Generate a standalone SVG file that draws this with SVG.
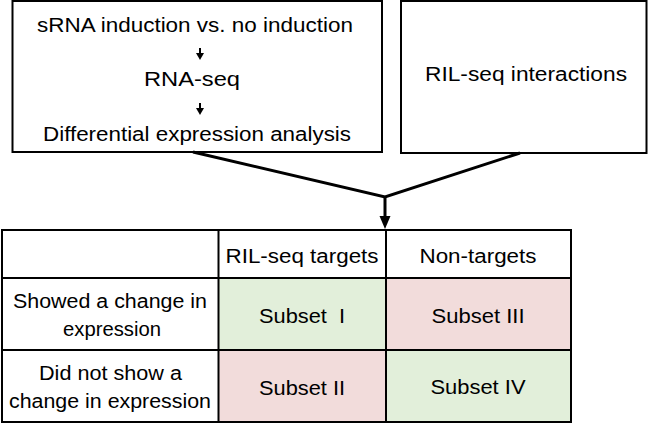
<svg xmlns="http://www.w3.org/2000/svg" width="648" height="427" viewBox="0 0 648 427">
<style>
.box{fill:#fff;stroke:#000;stroke-width:2}
.t{font-family:"Liberation Sans",Arial,sans-serif;font-size:20px;fill:#000;text-anchor:middle}
.conn{fill:none;stroke:#000;stroke-width:3;stroke-linejoin:miter}
.grid{fill:none;stroke:#000;stroke-width:2}
.g{fill:#E2EFDA}
.p{fill:#F2DCDB}
</style>
<rect width="648" height="427" fill="#fff"/>
<g id="node-induction">
<rect class="box" x="12.5" y="1" width="369.5" height="151"/>
<text class="t" x="195" y="32" textLength="316" lengthAdjust="spacingAndGlyphs">sRNA induction vs. no induction</text>
<line x1="200" y1="48" x2="200" y2="55" stroke="#000" stroke-width="2"/>
<polygon points="196,53 204,53 200,60" fill="#000"/>
<text class="t" x="192" y="86" textLength="96" lengthAdjust="spacingAndGlyphs">RNA-seq</text>
<line x1="200" y1="103" x2="200" y2="110" stroke="#000" stroke-width="2"/>
<polygon points="196,108 204,108 200,115" fill="#000"/>
<text class="t" x="197" y="141" textLength="308" lengthAdjust="spacingAndGlyphs">Differential expression analysis</text>
</g>
<g id="node-rilseq">
<rect class="box" x="401" y="1" width="245.5" height="152"/>
<text class="t" x="526" y="81" textLength="202" lengthAdjust="spacingAndGlyphs">RIL-seq interactions</text>
</g>
<g id="connectors">
<polyline class="conn" points="193,152 385,197 520,153"/>
<line class="conn" x1="385" y1="197" x2="385" y2="217"/>
<polygon points="379.5,216 390.5,216 385,229" fill="#000"/>
</g>
<g id="node-table">
<rect x="218.5" y="278" width="167.5" height="72" class="g"/>
<rect x="386" y="278" width="185" height="72" class="p"/>
<rect x="218.5" y="350" width="167.5" height="72" class="p"/>
<rect x="386" y="350" width="185" height="72" class="g"/>
<rect class="grid" x="2" y="230" width="569" height="192"/>
<line class="grid" x1="218.5" y1="230" x2="218.5" y2="422"/>
<line class="grid" x1="386" y1="230" x2="386" y2="422"/>
<line class="grid" x1="2" y1="278" x2="571" y2="278"/>
<line class="grid" x1="2" y1="350" x2="571" y2="350"/>
<text class="t" x="302" y="263" textLength="153" lengthAdjust="spacingAndGlyphs">RIL-seq targets</text>
<text class="t" x="478" y="263" textLength="117" lengthAdjust="spacingAndGlyphs">Non-targets</text>
<text class="t" x="110" y="308" textLength="194" lengthAdjust="spacingAndGlyphs">Showed a change in</text>
<text class="t" x="112" y="336" textLength="98" lengthAdjust="spacingAndGlyphs">expression</text>
<text class="t" x="302" y="323" style="white-space:pre" textLength="86" lengthAdjust="spacingAndGlyphs">Subset  I</text>
<text class="t" x="478" y="323" textLength="93" lengthAdjust="spacingAndGlyphs">Subset III</text>
<text class="t" x="110.5" y="380" textLength="143" lengthAdjust="spacingAndGlyphs">Did not show a</text>
<text class="t" x="110" y="408" textLength="202" lengthAdjust="spacingAndGlyphs">change in expression</text>
<text class="t" x="302" y="395" textLength="86" lengthAdjust="spacingAndGlyphs">Subset II</text>
<text class="t" x="478" y="394" textLength="95" lengthAdjust="spacingAndGlyphs">Subset IV</text>
</g>
</svg>
